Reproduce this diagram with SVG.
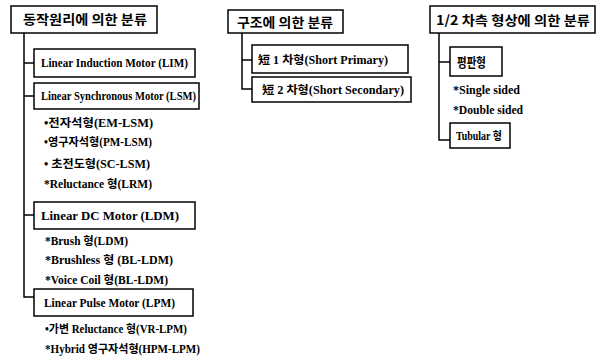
<svg xmlns="http://www.w3.org/2000/svg" width="602" height="363" viewBox="0 0 602 363">
<style>
.box{fill:#fff;stroke:#000;stroke-width:1.5}
.ln{fill:none;stroke:#000;stroke-width:1.5}
.t{font-family:"Liberation Serif","Noto Sans CJK KR",serif;font-size:11.5px;font-weight:bold;fill:#000}
.k{font-family:"Noto Sans CJK KR","Liberation Sans",sans-serif;font-size:13px;font-weight:bold;fill:#000}
</style>
<rect width="602" height="363" fill="#fff"/>
<g id="connectors">
<path class="ln" d="M24 33 V297 H34 M24 63 H34 M24 96 H34 M24 215 H34"/>
<path class="ln" d="M242 33 V89 H252 M242 60 H252"/>
<path class="ln" d="M439 33 V140 H450 M439 62 H450"/>
</g>
<g id="root1">
<rect class="box" x="11" y="6" width="146" height="27"/>
<text class="k" x="23" y="24" textLength="124" lengthAdjust="spacingAndGlyphs">동작원리에 의한 분류</text>
</g>
<g id="lim">
<rect class="box" x="34" y="49" width="161" height="28"/>
<text class="t" x="41" y="67" textLength="147" lengthAdjust="spacingAndGlyphs">Linear Induction Motor (LIM)</text>
</g>
<g id="lsm">
<rect class="box" x="34" y="83" width="165" height="26"/>
<text class="t" x="41" y="100" textLength="155" lengthAdjust="spacingAndGlyphs">Linear Synchronous Motor (LSM)</text>
</g>
<g id="lsm-items">
<text class="t" x="44" y="127" textLength="109" lengthAdjust="spacingAndGlyphs">•전자석형(EM-LSM)</text>
<text class="t" x="44" y="146" textLength="108" lengthAdjust="spacingAndGlyphs">•영구자석형(PM-LSM)</text>
<text class="t" x="44" y="168" textLength="106" lengthAdjust="spacingAndGlyphs">• 초전도형(SC-LSM)</text>
<text class="t" x="44" y="188" textLength="108" lengthAdjust="spacingAndGlyphs">*Reluctance 형(LRM)</text>
</g>
<g id="ldm">
<rect class="box" x="34" y="202" width="161" height="27"/>
<text class="t" x="41" y="220" textLength="138" lengthAdjust="spacingAndGlyphs">Linear DC Motor (LDM)</text>
</g>
<g id="ldm-items">
<text class="t" x="45" y="245" textLength="83" lengthAdjust="spacingAndGlyphs">*Brush 형(LDM)</text>
<text class="t" x="45" y="264" textLength="128" lengthAdjust="spacingAndGlyphs">*Brushless 형 (BL-LDM)</text>
<text class="t" x="45" y="284" textLength="123" lengthAdjust="spacingAndGlyphs">*Voice Coil 형(BL-LDM)</text>
</g>
<g id="lpm">
<rect class="box" x="34" y="289" width="159" height="27"/>
<text class="t" x="44" y="307" textLength="131" lengthAdjust="spacingAndGlyphs">Linear Pulse Motor (LPM)</text>
</g>
<g id="lpm-items">
<text class="t" x="45" y="333" textLength="142" lengthAdjust="spacingAndGlyphs">•가변 Reluctance 형(VR-LPM)</text>
<text class="t" x="45" y="353" textLength="155" lengthAdjust="spacingAndGlyphs">*Hybrid 영구자석형(HPM-LPM)</text>
</g>
<g id="root2">
<rect class="box" x="228" y="10" width="115" height="23"/>
<text class="k" x="237" y="27" textLength="96" lengthAdjust="spacingAndGlyphs">구조에 의한 분류</text>
</g>
<g id="short1">
<rect class="box" x="252" y="45" width="156" height="28"/>
<text class="t" x="258" y="64" textLength="130" lengthAdjust="spacingAndGlyphs">短 1 차형(Short Primary)</text>
</g>
<g id="short2">
<rect class="box" x="252" y="77" width="159" height="25"/>
<text class="t" x="262" y="94" textLength="142" lengthAdjust="spacingAndGlyphs">短 2 차형(Short Secondary)</text>
</g>
<g id="root3">
<rect class="box" x="430" y="6" width="165" height="27"/>
<text class="k" x="436" y="25" textLength="154" lengthAdjust="spacingAndGlyphs">1/2 차측 형상에 의한 분류</text>
</g>
<g id="flat">
<rect class="box" x="450" y="47" width="52" height="29"/>
<text class="k" x="457" y="67" textLength="29" lengthAdjust="spacingAndGlyphs">평판형</text>
</g>
<g id="flat-items">
<text class="t" x="453" y="94" textLength="67" lengthAdjust="spacingAndGlyphs">*Single sided</text>
<text class="t" x="453" y="114" textLength="70" lengthAdjust="spacingAndGlyphs">*Double sided</text>
</g>
<g id="tubular">
<rect class="box" x="450" y="123" width="60" height="25"/>
<text class="t" x="456" y="140" textLength="46" lengthAdjust="spacingAndGlyphs">Tubular 형</text>
</g>
</svg>
